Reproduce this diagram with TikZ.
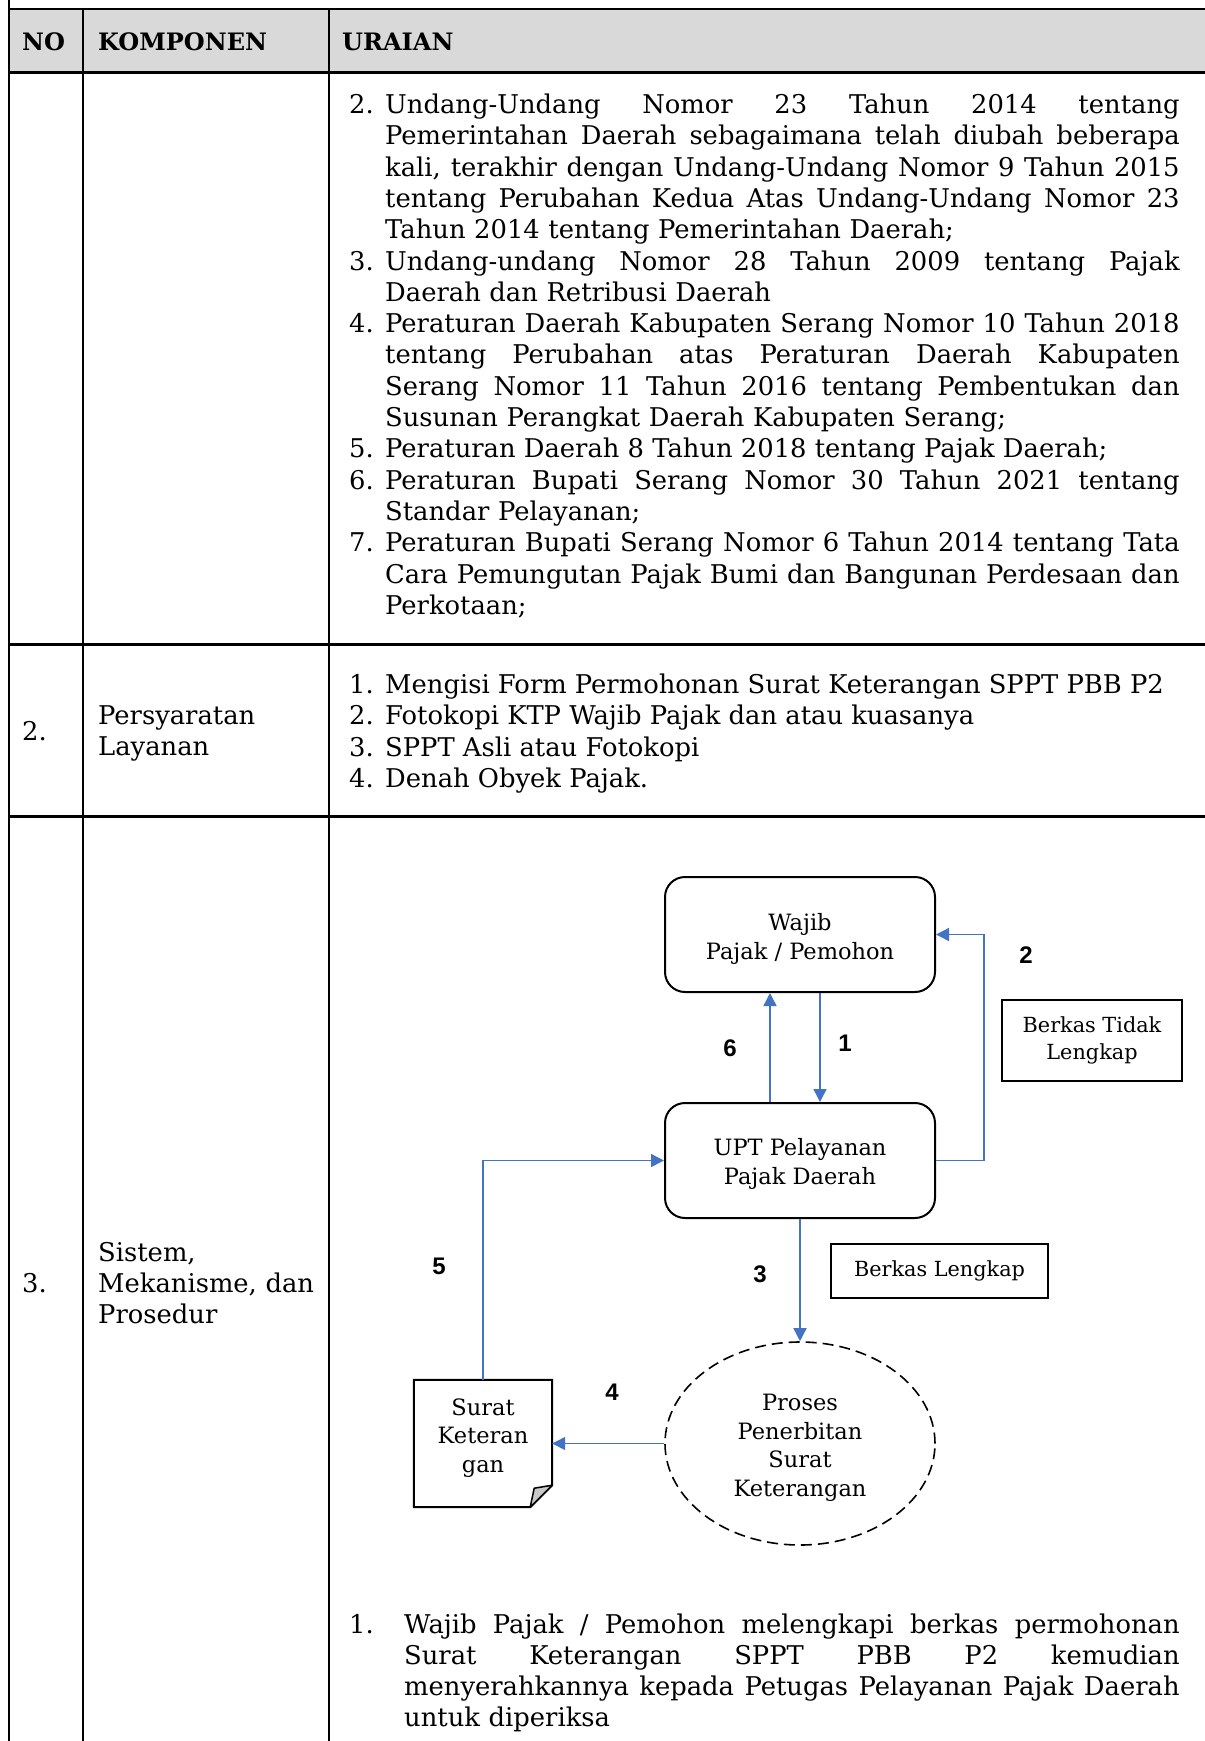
\documentclass[tikz,border=0pt]{standalone}
\usepackage{fontspec}
\setmainfont{DejaVu Serif}
\newfontfamily\diafont{DejaVu Serif}
\newfontfamily\numfont{Liberation Sans}
\usetikzlibrary{arrows.meta,shapes.geometric}
\definecolor{flowblue}{RGB}{68,114,196}
\definecolor{headgray}{RGB}{217,217,217}
\definecolor{foldgray}{RGB}{200,200,200}
% one line of a justified paragraph, spread to the full column width
\newcommand{\fullline}[1]{\makebox[\linewidth][s]{\spaceskip=0pt\relax\xspaceskip=0pt\relax #1}}

\begin{document}
\begin{tikzpicture}[x=1pt,y=-1pt,
  body/.style={font=\fontsize{25.8}{31.3}\selectfont, inner sep=0pt, anchor=base west},
  para/.style={body, text width=#1, align=left},
  hdr/.style={font=\fontsize{24}{28}\selectfont\bfseries, inner sep=0pt, anchor=base west},
  dia/.style={font=\diafont\fontsize{22.5}{28.5}\selectfont, align=center, inner sep=0pt},
  smalldia/.style={font=\diafont\fontsize{20.8}{27}\selectfont, align=center, inner sep=0pt},
  rbox/.style={draw, line width=2pt, rounded corners=20pt, minimum width=270pt, minimum height=115pt},
  sbox/.style={smalldia, draw, line width=2.5pt},
  stepnum/.style={font=\numfont\bfseries\fontsize{24}{28}\selectfont, inner sep=0pt},
  flow/.style={draw=flowblue, line width=1.4pt, -{Triangle[length=13pt,width=13pt]}},
  thinrule/.style={line width=1.5pt},
  thickrule/.style={line width=3pt},
]
\useasboundingbox (0,0) rectangle (1205,1741);
\fill[white] (0,0) rectangle (1205,1741);

% ---------- table frame ----------
\fill[headgray] (9,9) rectangle (1205,72);
\draw[line width=2.5pt] (9,0) -- (9,1741);
\draw[line width=2pt] (9,9) -- (1205,9);
\draw[thickrule] (9,72) -- (1205,72);
\draw[thinrule] (83,9) -- (83,1741);
\draw[thinrule] (329,9) -- (329,1741);
\draw[thickrule] (9,644) -- (1205,644);
\draw[thickrule] (9,816) -- (1205,816);

% ---------- header ----------
\node[hdr] (hno) at (22,50) {NO};
\node[hdr] (hkomp) at (98,50) {KOMPONEN};
\node[hdr] (hurai) at (342,50) {URAIAN};

% ---------- row 1: legal basis (continued) ----------
\node[body] (n2) at (349,113.5) {2.};
\node[para=794.5pt] (t2) at (385,113.5) {%
\fullline{Undang-Undang Nomor 23 Tahun 2014 tentang}\\
\fullline{Pemerintahan Daerah sebagaimana telah diubah beberapa}\\
\fullline{kali, terakhir dengan Undang-Undang Nomor 9 Tahun 2015}\\
\fullline{tentang Perubahan Kedua Atas Undang-Undang Nomor 23}\\
Tahun 2014 tentang Pemerintahan Daerah;};
\node[body] (n3) at (349,270) {3.};
\node[para=794.5pt] (t3) at (385,270) {%
\fullline{Undang-undang Nomor 28 Tahun 2009 tentang Pajak}\\
Daerah dan Retribusi Daerah};
\node[body] (n4) at (349,332.6) {4.};
\node[para=794.5pt] (t4) at (385,332.6) {%
\fullline{Peraturan Daerah Kabupaten Serang Nomor 10 Tahun 2018}\\
\fullline{tentang Perubahan atas Peraturan Daerah Kabupaten}\\
\fullline{Serang Nomor 11 Tahun 2016 tentang Pembentukan dan}\\
Susunan Perangkat Daerah Kabupaten Serang;};
\node[body] (n5) at (349,457.8) {5.};
\node[body] (t5) at (385,457.8) {Peraturan Daerah 8 Tahun 2018 tentang Pajak Daerah;};
\node[body] (n6) at (349,489.1) {6.};
\node[para=794.5pt] (t6) at (385,489.1) {%
\fullline{Peraturan Bupati Serang Nomor 30 Tahun 2021 tentang}\\
Standar Pelayanan;};
\node[body] (n7) at (349,551.7) {7.};
\node[para=794.5pt] (t7) at (385,551.7) {%
\fullline{Peraturan Bupati Serang Nomor 6 Tahun 2014 tentang Tata}\\
\fullline{Cara Pemungutan Pajak Bumi dan Bangunan Perdesaan dan}\\
Perkotaan;};

% ---------- row 2: requirements ----------
\node[body] (r2no) at (22,740) {2.};
\node[para=220pt] (r2komp) at (98,724.5) {Persyaratan\\Layanan};
\node[body] (q1n) at (349,693.5) {1.};
\node[body] (q1) at (385,693.5) {Mengisi Form Permohonan Surat Keterangan SPPT PBB P2};
\node[body] (q2n) at (349,724.8) {2.};
\node[body] (q2) at (385,724.8) {Fotokopi KTP Wajib Pajak dan atau kuasanya};
\node[body] (q3n) at (349,756.1) {3.};
\node[body] (q3) at (385,756.1) {SPPT Asli atau Fotokopi};
\node[body] (q4n) at (349,787.4) {4.};
\node[body] (q4) at (385,787.4) {Denah Obyek Pajak.};

% ---------- row 3: system, mechanism and procedure ----------
\node[body] (r3no) at (22,1292.3) {3.};
\node[para=230pt] (r3komp) at (98,1261) {Sistem,\\Mekanisme, dan\\Prosedur};

% flow chart: shapes
\node[rbox] (wajib) at (800,934.5) {};
\node[dia] (wajibtext) at (800,939) {Wajib\\Pajak / Pemohon};
\node[rbox] (upt) at (800,1160.5) {};
\node[dia] (upttext) at (800,1164) {UPT Pelayanan\\Pajak Daerah};
\node[sbox, minimum width=180pt, minimum height=81pt] (tidak) at (1092,1040.5) {Berkas Tidak\\Lengkap};
\node[sbox, minimum width=217pt, minimum height=54pt] (lengkap) at (939.5,1271) {Berkas Lengkap};
\node[ellipse, draw, dash pattern=on 11pt off 6pt, line width=1.6pt,
      minimum width=270pt, minimum height=203pt, inner sep=0pt] (proc) at (800,1443.5) {};
\node[dia] (proctext) at (800,1448) {Proses\\Penerbitan\\Surat\\Keterangan};

% document symbol with a folded corner
\node[minimum width=138pt, minimum height=127pt, inner sep=0pt] (doc) at (483,1443.5) {};
\draw[line width=2pt, line join=miter] (doc.north west) -- (doc.north east)
  -- ([yshift=22pt]doc.south east) -- ([xshift=-22pt]doc.south east)
  -- (doc.south west) -- cycle;
\filldraw[fill=foldgray, line width=1.5pt, line join=round] ([yshift=22pt]doc.south east)
  -- ([xshift=-22pt]doc.south east) -- ([xshift=-18pt,yshift=19pt]doc.south east) -- cycle;
\node[dia] (doctext) at (483,1438) {Surat\\Keteran\\gan};

% connectors
\draw[flow] ([xshift=20pt]wajib.south) -- ([xshift=20pt]upt.north);
\draw[flow] ([xshift=-30pt]upt.north) -- ([xshift=-30pt]wajib.south);
\draw[flow] (upt.east) -- ++(48,0) |- (wajib.east);
\draw[flow] (upt.south) -- (proc.north);
\draw[flow] (proc.west) -- (doc.east);
\draw[flow] (doc.north) |- (upt.west);

% step numbers
\node[stepnum] (s1) at (845,1043) {1};
\node[stepnum] (s2) at (1026,955) {2};
\node[stepnum] (s3) at (760,1274) {3};
\node[stepnum] (s4) at (612,1392) {4};
\node[stepnum] (s5) at (439,1266) {5};
\node[stepnum] (s6) at (730,1048) {6};

% description below the chart
\node[body] (d1n) at (349,1633) {1.};
\node[para=775.5pt] (d1) at (404,1633) {%
\fullline{Wajib Pajak / Pemohon melengkapi berkas permohonan}\\
\fullline{Surat Keterangan SPPT PBB P2 kemudian}\\
\fullline{menyerahkannya kepada Petugas Pelayanan Pajak Daerah}\\
untuk diperiksa};
\end{tikzpicture}
\end{document}
